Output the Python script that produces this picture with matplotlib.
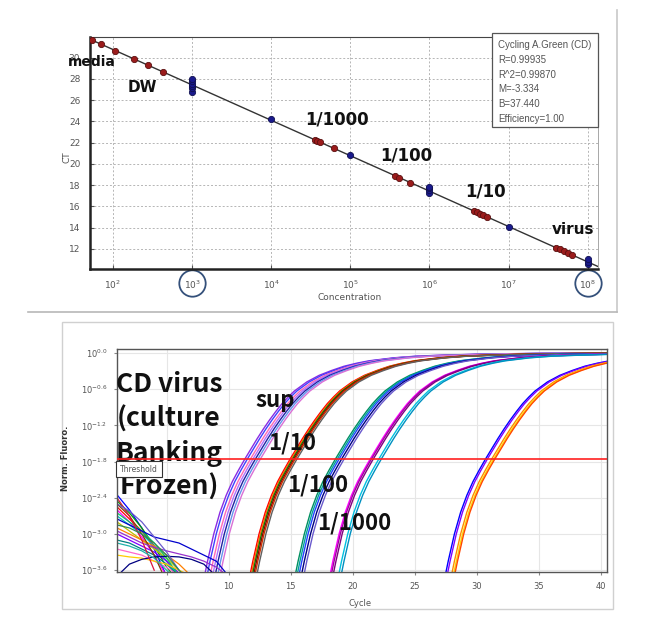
import numpy as np
import matplotlib
matplotlib.use("Agg")
import matplotlib.pyplot as plt
from matplotlib import transforms
from matplotlib.patches import Rectangle
from matplotlib.lines import Line2D

# ---------------- data: standard curve (top) ----------------
red_log_conc = [1.74, 1.85, 2.03, 2.27, 2.44, 2.63,
                4.55, 4.58, 4.62, 4.79,
                5.57, 5.62, 5.76,
                6.56, 6.60, 6.64, 6.68, 6.73,
                7.60, 7.65, 7.70, 7.75, 7.80]
red_ct = [31.64, 31.27, 30.67, 29.87, 29.31, 28.67,
          22.27, 22.17, 22.04, 21.47,
          18.87, 18.70, 18.24,
          15.57, 15.44, 15.30, 15.17, 15.00,
          12.10, 11.94, 11.77, 11.60, 11.43]
blue_log_conc = [3, 3, 3, 3, 3, 3, 4, 5, 6, 6, 6, 6, 7, 8, 8, 8]
blue_ct = [26.8, 27.1, 27.3, 27.5, 27.8, 28.0, 24.2, 20.8,
           17.3, 17.5, 17.7, 17.8, 14.1, 10.6, 10.8, 11.0]
fit_M = -3.334
fit_B = 37.440
legend_lines = ["Cycling A.Green (CD)", "R=0.99935", "R^2=0.99870",
                "M=-3.334", "B=37.440", "Efficiency=1.00"]
top_xtick_exp = [2, 3, 4, 5, 6, 7, 8]
top_yticks = [12, 14, 16, 18, 20, 22, 24, 26, 28, 30]

# ---------------- data: amplification plot (bottom) ----------------
# template shape: log10(norm. fluo) vs cycles from Ct
tmpl_dt = [-3.5, -3, -2.5, -2, -1.5, -1, -0.5, 0, 0.5, 1, 1.5, 2, 2.5, 3,
           3.5, 4, 5, 6, 7, 8, 9, 10, 12, 14, 17, 20, 25, 30]
tmpl_log = [-3.95, -3.45, -3.0, -2.64, -2.36, -2.13, -1.94, -1.76, -1.59,
            -1.42, -1.26, -1.11, -0.97, -0.84, -0.73, -0.63, -0.48, -0.37,
            -0.29, -0.22, -0.17, -0.13, -0.08, -0.05, -0.03, -0.015,
            -0.005, 0.0]
sup_ct = [11.3, 11.5, 11.75, 11.95, 12.15, 12.35, 12.55]
sup_col = ['#8a2be2', '#4040ff', '#ff69b4', '#b070ff', '#2020a0', '#6495ed', '#da70d6']
d10_ct = [14.95, 15.05, 15.15, 15.25, 15.35, 15.5]
d10_col = ['#ff0000', '#ff6600', '#008000', '#8b0000', '#cc3300', '#606060']
d100_ct = [18.6, 18.75, 18.9, 19.1, 19.3]
d100_col = ['#009060', '#00a0a0', '#2040ff', '#000080', '#6a5acd']
d1000_ct = [21.4, 21.5, 21.65, 22.1, 22.3]
d1000_col = ['#ff00ff', '#a000a0', '#800080', '#00c0e0', '#0090c0']
late_ct = [30.7, 30.85, 31.2, 31.35, 31.45]
late_col = ['#0000ff', '#8000ff', '#ff8c00', '#ffd700', '#ff4500']

# baseline noise curves (log10 values at cycles 1, 2, 3, ...)
noise_curves = [
    [-2.35, -2.6, -2.9, -3.25, -3.7],
    [-2.45, -2.65, -2.9, -3.2, -3.55, -3.8],
    [-2.55, -2.75, -2.95, -3.2, -3.45, -3.7],
    [-2.6, -2.8, -3.05, -3.35, -3.7],
    [-2.7, -2.85, -3.0, -3.2, -3.45, -3.7],
    [-2.8, -2.95, -3.1, -3.25, -3.4, -3.6, -3.8],
    [-2.9, -3.0, -3.1, -3.2, -3.35, -3.5, -3.7],
    [-3.0, -3.1, -3.2, -3.3, -3.45, -3.65],
    [-3.1, -3.15, -3.25, -3.35, -3.5, -3.7],
    [-3.25, -3.3, -3.35, -3.45, -3.55, -3.7],
    [-2.5, -2.7, -3.0, -3.35, -3.8],
    [-2.65, -2.8, -2.95, -3.15, -3.4, -3.7],
    [-3.35, -3.38, -3.4, -3.45, -3.5, -3.6, -3.7],
    [-2.75, -2.85, -2.95, -3.05, -3.1, -3.15, -3.25, -3.35, -3.45, -3.7],
    [-3.7, -3.5, -3.42, -3.38, -3.37, -3.38, -3.42, -3.5, -3.7],
    [-2.95, -3.05, -3.15, -3.22, -3.28, -3.33, -3.38, -3.45, -3.55, -3.7],
    [-2.4, -2.7, -3.1, -3.6],
    [-3.15, -3.2, -3.28, -3.4, -3.6, -3.8],
    [-2.5, -2.62, -2.8, -3.05, -3.3, -3.6],
    [-2.85, -2.9, -3.0, -3.15, -3.35, -3.6, -3.8],
]
noise_col = ['#0000ff', '#00a000', '#ff0000', '#ff00ff', '#00c0c0', '#c0c000',
             '#ff8000', '#8000ff', '#008080', '#ff66cc', '#804000', '#00cc66',
             '#ffcc00', '#0000cc', '#000080', '#9932cc', '#dc143c', '#20b2aa',
             '#6a5acd', '#2e8b57']
threshold_log = -1.76
bot_ytick_log = [0.0, -0.6, -1.2, -1.8, -2.4, -3.0, -3.6]
bot_xticks = [5, 10, 15, 20, 25, 30, 35, 40]

# ---------------- figure ----------------
W, H = 645, 617
fig = plt.figure(figsize=(W / 100, H / 100), dpi=100)
fig.patch.set_facecolor('white')


def fx(x):
    return x / W


def fy(y):
    return 1 - y / H


# panel frames
fig.add_artist(Line2D([fx(617), fx(617)], [fy(10), fy(312)], color='#c8c8c8', lw=1.2))
fig.add_artist(Line2D([fx(28), fx(617)], [fy(312), fy(312)], color='#b8b8b8', lw=1.2))
fig.add_artist(Rectangle((fx(62), fy(609)), fx(613) - fx(62), fy(322) - fy(609),
                         fill=False, ec='#d0d0d0', lw=1.0))

# ---------------- top axes ----------------
axT = fig.add_axes([fx(90), fy(269), fx(598) - fx(90), fy(37) - fy(269)])
axT.set_xscale('log')
axT.set_xlim(10 ** 1.71, 10 ** 8.13)
axT.set_ylim(10.1, 31.95)
axT.set_xticks([10.0 ** k for k in top_xtick_exp])
axT.set_xticklabels(['$10^{%d}$' % k for k in top_xtick_exp])
axT.xaxis.set_minor_locator(matplotlib.ticker.NullLocator())
axT.set_yticks(top_yticks)
axT.tick_params(axis='both', labelsize=6.5, labelcolor='#555555', color='#555555',
                direction='in', length=3, pad=7)
axT.grid(True, linestyle=(0, (2, 2)), color='#b5b5b5', lw=0.7)
for s in ['left', 'bottom']:
    axT.spines[s].set_linewidth(1.8)
    axT.spines[s].set_color('#222222')
axT.spines['top'].set_color('#444444')
axT.spines['top'].set_linewidth(0.8)
axT.spines['right'].set_color('#999999')
axT.spines['right'].set_linewidth(0.6)

fit_x = np.array([1.71, 8.13])
axT.plot(10 ** fit_x, fit_B + fit_M * fit_x, color='#333333', lw=1.0, zorder=3)
axT.plot(10.0 ** np.array(red_log_conc), red_ct, 'o', ms=4.5, mfc='#9b1c1c',
         mec='#5a1010', mew=0.6, zorder=4)
axT.plot(10.0 ** np.array(blue_log_conc), blue_ct, 'o', ms=4.5, mfc='#1a1a8c',
         mec='#101050', mew=0.6, zorder=5)

bt = transforms.blended_transform_factory(axT.transData, axT.transAxes)
axT.plot([1e3, 1e8], [-0.062, -0.062], 'o', ms=19, mfc='none', mec='#34507a',
         mew=1.3, transform=bt, clip_on=False)

fig.text(fx(350), fy(297), 'Concentration', fontsize=6.5, color='#555555',
         ha='center', va='center')
fig.text(fx(67), fy(157), 'CT', fontsize=6.5, color='#555555', rotation=90,
         ha='center', va='center')

# legend box
fig.add_artist(Rectangle((fx(492), fy(127)), fx(598) - fx(492), fy(33) - fy(127),
                         fc='white', ec='#555555', lw=0.9, zorder=5))
for i, t in enumerate(legend_lines):
    fig.text(fx(498), fy(45 + i * 14.8), t, fontsize=7, color='#555555',
             family='Liberation Sans', ha='left', va='center', zorder=6)

top_labels = [('media', 68, 62, 10), ('DW', 128, 88, 11), ('1/1000', 305, 120, 12),
              ('1/100', 380, 155, 12), ('1/10', 465, 192, 12), ('virus', 552, 229, 11)]
for t, x, y, fs in top_labels:
    fig.text(fx(x), fy(y), t, fontsize=fs, fontweight='bold', color='#111111',
             ha='left', va='center', zorder=7)

# ---------------- bottom axes ----------------
axB = fig.add_axes([fx(117), fy(572), fx(607) - fx(117), fy(349) - fy(572)])
axB.set_yscale('log')
axB.set_xlim(1.0, 40.5)
axB.set_ylim(10 ** -3.63, 10 ** 0.066)
axB.set_xticks(bot_xticks)
axB.set_yticks([10 ** v for v in bot_ytick_log])
axB.set_yticklabels(['$10^{%.1f}$' % v for v in bot_ytick_log])
axB.yaxis.set_minor_locator(matplotlib.ticker.NullLocator())
axB.tick_params(axis='both', labelsize=6, labelcolor='#555555', color='#888888',
                length=2, pad=5)
axB.grid(True, color='#e6e6e6', lw=0.8)
for s in axB.spines.values():
    s.set_color('#555555')
    s.set_linewidth(1.0)

tdt = np.array(tmpl_dt)
tv = 10 ** np.array(tmpl_log)
for cts, cols in [(sup_ct, sup_col), (d10_ct, d10_col), (d100_ct, d100_col),
                  (d1000_ct, d1000_col), (late_ct, late_col)]:
    for c, col in zip(cts, cols):
        axB.plot(c + tdt, tv, color=col, lw=1.0, zorder=2)

for vals, col in zip(noise_curves, noise_col):
    cyc = np.arange(1, len(vals) + 1)
    axB.plot(cyc, 10 ** np.array(vals), color=col, lw=0.9, zorder=2)

axB.axhline(10 ** threshold_log, color='#ff2020', lw=1.2, zorder=4)

axB.text(fx(169), fy(436), 'CD virus\n(culture\nBanking\nFrozen)',
         transform=fig.transFigure, fontsize=19, fontweight='bold',
         family='Noto Sans CJK KR',
         ha='center', va='center', multialignment='center', linespacing=1.34,
         color='#111111', zorder=3)
axB.text(fx(120), fy(469), 'Threshold', transform=fig.transFigure, fontsize=5.5,
         color='#555555', ha='left', va='center', zorder=5,
         bbox=dict(boxstyle='square,pad=0.5', fc='white', ec='#333333', lw=0.8))

bot_labels = [('sup', 255, 400), ('1/10', 268, 443), ('1/100', 287, 485),
              ('1/1000', 317, 523)]
for t, x, y in bot_labels:
    axB.text(fx(x), fy(y), t, transform=fig.transFigure, fontsize=16,
             fontweight='bold', family='Noto Sans CJK KR', ha='left',
             va='center', color='#111111', zorder=3)

fig.text(fx(360), fy(603), 'Cycle', fontsize=6, color='#555555', ha='center',
         va='center')
fig.text(fx(66), fy(458), 'Norm. Fluoro.', fontsize=6, fontweight='bold',
         color='#333333', rotation=90, ha='center', va='center')

fig.savefig('out.png', dpi=100)
